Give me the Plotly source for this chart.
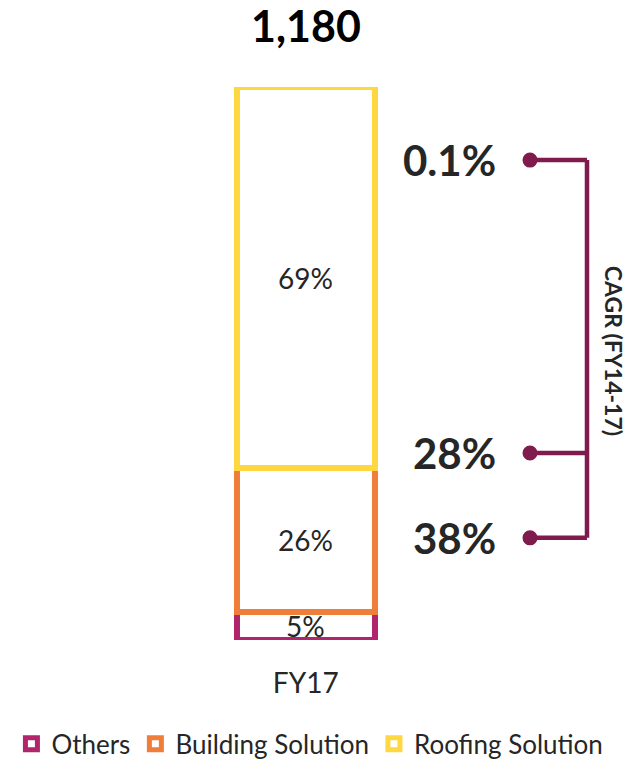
import plotly.graph_objects as go

# ---- data ----
categories = ["FY17"]
series_names = ["Others", "Building Solution", "Roofing Solution"]
series_values = [59, 307, 814]          # stacked bottom -> top, total 1,180
share_labels = ["5%", "26%", "69%"]
total_label = "1,180"
cagr_labels = ["0.1%", "28%", "38%"]     # top -> bottom
cagr_title = "CAGR (FY14-17)"

# ---- styles ----
colors = ["#B0256B", "#F07E3B", "#FFD740"]
bracket_color = "#7F1B4D"
text_color = "#262626"
FONT = "Lato"
W, H = 639, 759

total = sum(series_values)

fig = go.Figure()
for name, val, col in zip(series_names, series_values, colors):
    fig.add_trace(go.Bar(
        x=categories, y=[val], name=name,
        marker=dict(color="white", line=dict(color=col, width=6.5)),
        width=0.2167, cliponaxis=False, hoverinfo="skip",
    ))

annotations = []
# segment share labels at segment midpoints
base = 0
for val, lab in zip(series_values, share_labels):
    annotations.append(dict(x=categories[0], y=base + val / 2, xref="x", yref="y",
                            text=lab, showarrow=False,
                            font=dict(family=FONT, size=28, color=text_color)))
    base += val
# total label
annotations.append(dict(x=categories[0], y=total, xref="x", yref="y", text=f"<b>{total_label}</b>",
                        showarrow=False, yshift=62,
                        font=dict(family=FONT, size=43, color="#000000")))

# CAGR bracket (layout positions: paper x, axis-unit y)
cagr_y = [1024, 399, 218]
dot_x, bracket_x, label_x, title_x = 530 / W, 587 / W, 498 / W, 614 / W
shapes = []
for lab, yv in zip(cagr_labels, cagr_y):
    annotations.append(dict(x=label_x, y=yv, xref="paper", yref="y", text=f"<b>{lab}</b>",
                            showarrow=False, xanchor="right",
                            font=dict(family=FONT, size=42, color=text_color)))
    shapes.append(dict(type="line", xref="paper", yref="y", x0=dot_x, x1=bracket_x,
                       y0=yv, y1=yv, line=dict(color=bracket_color, width=4.5)))
    shapes.append(dict(type="circle", xref="paper", yref="y", xsizemode="pixel", ysizemode="pixel",
                       xanchor=dot_x, yanchor=yv, x0=-7.5, x1=7.5, y0=-7.5, y1=7.5,
                       fillcolor=bracket_color, line=dict(width=0)))
shapes.append(dict(type="line", xref="paper", yref="y", x0=bracket_x, x1=bracket_x,
                   y0=min(cagr_y), y1=max(cagr_y), line=dict(color=bracket_color, width=4.5)))
annotations.append(dict(x=title_x, y=617, xref="paper", yref="y", text=f"<b>{cagr_title}</b>",
                        showarrow=False, textangle=90, xanchor="center", yanchor="middle",
                        font=dict(family=FONT, size=23, color=text_color)))

fig.update_layout(
    width=W, height=H,
    margin=dict(l=0, r=0, t=87, b=119, autoexpand=False),
    paper_bgcolor="white", plot_bgcolor="white",
    barmode="stack", bargap=0,
    showlegend=True,
    legend=dict(orientation="h", x=0.485, xanchor="center", xref="container",
                y=0.02, yanchor="middle", yref="container",
                font=dict(family=FONT, size=26, color=text_color), traceorder="normal",
                itemwidth=30),
    xaxis=dict(range=[-0.4785, 0.5215], showgrid=False, zeroline=False, showline=False,
               ticks="", tickfont=dict(family=FONT, size=28, color=text_color),
               ticklabelstandoff=24, fixedrange=True, automargin=False),
    yaxis=dict(range=[0, total], visible=False, fixedrange=True, automargin=False),
    annotations=annotations, shapes=shapes,
    font=dict(family=FONT),
)

fig.write_html("out.html")
